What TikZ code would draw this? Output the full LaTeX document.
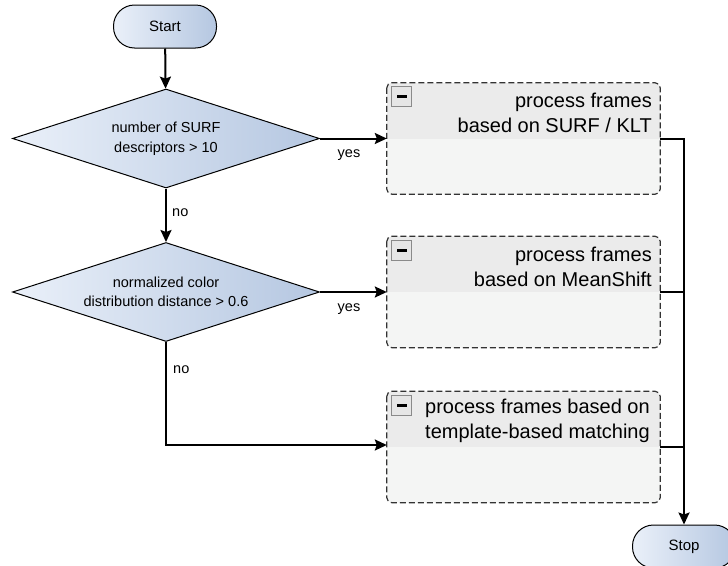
\documentclass[tikz,border=0pt]{standalone}
\usepackage{fontspec}
\setmainfont{Liberation Sans}
\usetikzlibrary{shapes.geometric,arrows.meta}
\definecolor{gradL}{HTML}{EAF0F9}
\definecolor{gradR}{HTML}{B5C7E1}
\definecolor{boxfill}{HTML}{F4F5F4}
\definecolor{hdrfill}{HTML}{EBEBEB}
\definecolor{dashcol}{HTML}{333333}
\definecolor{iconborder}{HTML}{8A8A8A}
\definecolor{iconfill}{HTML}{E6E6E6}
\tikzset{
  terminal/.style={draw=black, line width=1pt, rounded corners=21pt, minimum width=103pt, minimum height=43pt,
    inner sep=0pt, left color=gradL, right color=gradR, font=\fontsize{15}{18}\selectfont},
  decision/.style={diamond, draw=black, line width=1pt, minimum width=307pt, minimum height=99pt, inner sep=0pt,
    shape aspect=3.1, left color=gradL, right color=gradR, align=center, font=\fontsize{14.5}{19.5}\selectfont},
  procbox/.style={rectangle, fill=boxfill, minimum width=273pt, minimum height=111pt, inner sep=0pt, rounded corners=5pt},
  boxborder/.style={draw=dashcol, line width=1.2pt, dash pattern=on 6pt off 3pt, rounded corners=5pt},
  hdrtext/.style={font=\fontsize{20}{24.5}\selectfont, inner sep=0pt},
  icon/.style={draw=iconborder, fill=iconfill, line width=0.8pt, minimum width=20pt, minimum height=20pt, inner sep=0pt},
  conn/.style={draw=black, line width=2pt},
  arr/.style={conn, -{Stealth[length=12pt,width=11pt,inset=2pt]}},
  lbl/.style={font=\fontsize{14.5}{17}\selectfont, inner sep=0pt}
}
\begin{document}
\begin{tikzpicture}[x=1pt,y=-1pt]
\clip (0,0) rectangle (728,565);
\fill[white] (0,0) rectangle (728,565);

% nodes
\node[terminal] (start) at (165,26.5) {Start};
\node[decision] (d1) at (166,138.5) {number of SURF\\descriptors > 10};
\node[decision] (d2) at (166,292) {normalized color\\distribution distance > 0.6};
\node[terminal] (stop) at (684,546.5) {Stop};

% process boxes
\foreach \n/\cy in {b1/138.5, b2/292, b3/447}{
  \node[procbox] (\n) at (523.5,\cy) {};
  \begin{scope}
    \clip[rounded corners=5pt] (\n.north west) rectangle (\n.south east);
    \fill[hdrfill] (\n.north west) rectangle (\n.east);
  \end{scope}
  \draw[boxborder] (\n.north west) rectangle (\n.south east);
  \node[icon] (\n icon) at ([xshift=15pt,yshift=-14pt]\n.north west) {};
  \fill[black] ([xshift=-5pt,yshift=-1.5pt]\n icon.center) rectangle ([xshift=5pt,yshift=1.5pt]\n icon.center);
}
\node[hdrtext, anchor=east, align=right] (t1) at (652,113) {process frames\\based on SURF / KLT};
\node[hdrtext, anchor=east, align=right] (t2) at (652,267) {process frames\\based on MeanShift};
\node[hdrtext, anchor=west, align=left] (t3) at (425,421) {process frames based on\\template-based matching};

% connectors
\draw[arr] (start) -- (d1);
\draw[arr] (d1.east) -- (d1.east -| b1.west);
\node[lbl] (yes1) at (349,155) {yes};
\draw[arr] (d1.south) -- (d2.north);
\node[lbl, anchor=west] (no1) at (172,213) {no};
\draw[arr] (d2.east) -- (d2.east -| b2.west);
\node[lbl] (yes2) at (349,309) {yes};
\draw[arr] (d2.south) |- ([yshift=2pt]b3.west);
\node[lbl, anchor=west] (no2) at (173,370) {no};

\draw[arr] (b1.east) -| (stop.north);
\draw[conn] (b2.east) -- (b2.east -| stop.north);
\draw[conn] (b3.east) -- (b3.east -| stop.north);
\end{tikzpicture}
\end{document}
